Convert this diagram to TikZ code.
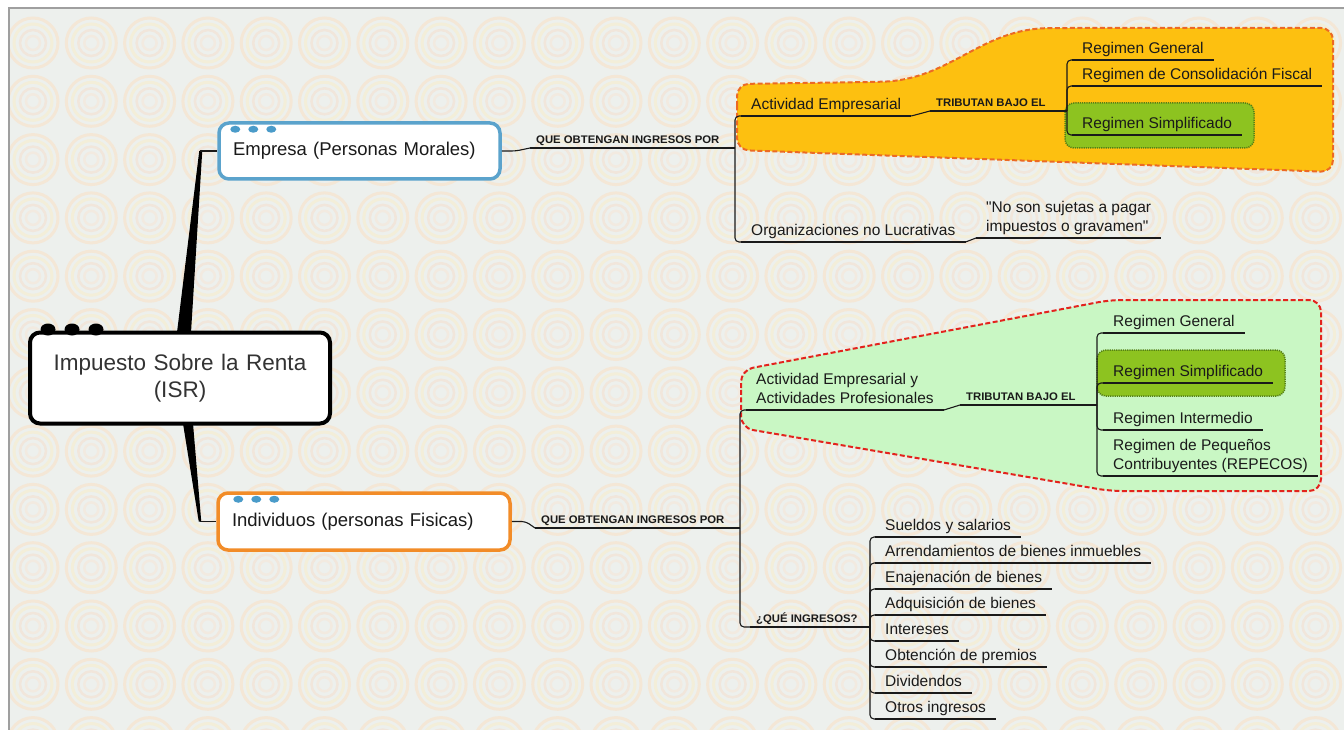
\documentclass[tikz,border=0pt]{standalone}
\usepackage{fontspec}
\setmainfont{Liberation Sans}
\newfontfamily\labfont[FakeStretch=1.03]{Liberation Sans}
\newfontfamily\qfont[Ligatures=TeXOff]{Liberation Sans}
\usetikzlibrary{calc}
\pgfdeclarelayer{back}
\pgfdeclarelayer{bg}
\pgfsetlayers{back,bg,main}
\definecolor{bgc}{HTML}{EDF0ED}
\definecolor{ringA}{HTML}{F4E7D6}
\definecolor{ringB}{HTML}{F3EED9}
\definecolor{ringC}{HTML}{F1E6DB}
\definecolor{ringD}{HTML}{F2EAE0}
\definecolor{empblue}{HTML}{5BA3CC}
\definecolor{dotblue}{HTML}{4A9BC9}
\definecolor{indorange}{HTML}{F28C28}
\definecolor{orfill}{HTML}{FDC010}
\definecolor{orborder}{HTML}{EC6A24}
\definecolor{lgfill}{HTML}{C9F7C4}
\definecolor{redborder}{HTML}{E3231D}
\definecolor{simpl}{HTML}{8DC320}
\definecolor{simplb}{HTML}{557F16}
\definecolor{txt}{HTML}{1A1A1A}
\begin{document}
\begin{tikzpicture}[x=1pt,y=-1pt,
  box/.style={rectangle, rounded corners=10pt, fill=white, line width=3.5pt, inner xsep=14pt, align=left, text=txt, font=\fontsize{18.5}{22}\selectfont},
  topic/.style={anchor=south west, text=txt, font=\fontsize{15.5}{19}\selectfont, inner xsep=10pt, inner ysep=2.5pt, text depth=3.5pt},
  topicone/.style={topic, text height=11pt},
  lab/.style={anchor=south west, text=txt, font=\labfont\bfseries\fontsize{11}{13}\selectfont, inner xsep=6pt, inner ysep=2.5pt, text height=8pt, text depth=1.5pt},
  ul/.style={line width=1.1pt, txt},
  conn/.style={line width=1.1pt, txt, rounded corners=4pt},
  regionline/.style={line width=2pt, dash pattern=on 5pt off 2.5pt, rounded corners=12pt},
  hl/.style={fill=simpl, draw=simplb, line width=1.5pt, dash pattern=on 1.2pt off 1pt, rounded corners=9pt}
]
\useasboundingbox (0,0) rectangle (1344,730);
\begin{pgfonlayer}{back}
\fill[white] (0,0) rectangle (1344,730);
\fill[bgc] (9,8) rectangle (1344,730);
\begin{scope}
\clip (9,8) rectangle (1344,730);
\foreach \i in {0,...,23}{\foreach \j in {0,...,12}{
  \draw[ringA, line width=3pt] (33+58.3*\i, 43+58.3*\j) circle[radius=25];
  \draw[ringB, line width=3pt] (33+58.3*\i, 43+58.3*\j) circle[radius=19];
  \draw[ringC, line width=2.5pt] (33+58.3*\i, 43+58.3*\j) circle[radius=13];
  \draw[ringD, line width=2.5pt] (33+58.3*\i, 43+58.3*\j) circle[radius=7];
}}
\end{scope}
\draw[gray!75, line width=1.5pt] (9,730) -- (9,8) -- (1344,8);
% region shapes
\path[fill=orfill, draw=orborder, regionline]
  (737,118) -- (737,84) -- (870,82) .. controls (950,80) and (980,29) .. (1060,28)
  -- (1333,28) -- (1333,172) -- (737,150) -- cycle;
\path[hl] (1065,103) rectangle (1254,148);
\path[fill=lgfill, draw=redborder, regionline]
  (741,400) -- (741,370) -- (1110,300) -- (1321,300) -- (1321,491) -- (1110,491) -- (741,428) -- cycle;
\path[hl] (1097,350) rectangle (1285,396);
\end{pgfonlayer}

% main boxes
\node[box, draw=black, line width=4pt, align=center, text width=270pt, minimum width=300pt, minimum height=91pt, text=black!80, font=\fontsize{22.5}{27}\selectfont] (root) at (180,378) {Impuesto Sobre la Renta\\(ISR)};
\node[box, draw=empblue, text width=253pt, minimum height=56pt] (emp) at (359.5,151) {Empresa (Personas Morales)};
\node[box, draw=indorange, text width=264pt, minimum height=57pt] (ind) at (364,521.5) {Individuos (personas Fisicas)};
\foreach \k in {0,1,2}{
  \fill[black] ($(root.north west)+(20+24*\k,-1)$) ellipse (7.5 and 6);
  \fill[dotblue] ($(emp.north west)+(18+18*\k,8)$) ellipse (5 and 3.5);
  \fill[dotblue] ($(ind.north west)+(22+18*\k,8)$) ellipse (5 and 3.5);
}

% top branch
\node[lab] (que1) at (530,148) {QUE OBTENGAN INGRESOS POR};
\node[topicone] (ae1) at (741,116) {Actividad Empresarial};
\node[topicone] (org1) at (741,242) {Organizaciones no Lucrativas};
\node[topic, align=left, font=\qfont\fontsize{15.5}{19}\selectfont] (nosuj) at (976,238) {"No son sujetas a pagar\\impuestos o gravamen"};
\node[lab] (trib1) at (930,111) {TRIBUTAN BAJO EL};
\node[topicone] (rg1) at (1072,60) {Regimen General};
\node[topicone] (rcf1) at (1072,86) {Regimen de Consolidación Fiscal};
\node[topicone] (rs1) at (1072,135) {Regimen Simplificado};
\coordinate (s1) at (735,148);
\coordinate (j2) at (1067,111);

% bottom branch
\node[lab] (que2) at (535,528) {QUE OBTENGAN INGRESOS POR};
\node[topic, align=left] (aep) at (746,410) {Actividad Empresarial y\\Actividades Profesionales};
\node[lab] (trib2) at (960,405) {TRIBUTAN BAJO EL};
\node[topicone] (rg2) at (1103,333) {Regimen General};
\node[topicone] (rs2) at (1103,383) {Regimen Simplificado};
\node[topicone] (ri2) at (1103,430) {Regimen Intermedio};
\node[topic, align=left] (rp2) at (1103,476) {Regimen de Pequeños\\Contribuyentes (REPECOS)};
\node[lab] (qi) at (750,627) {¿QUÉ INGRESOS?};
\coordinate (s2) at (740,528);
\coordinate (j3) at (1097,405);
\coordinate (j4) at (870,627);
\foreach \n/\t [count=\k from 0] in {it1/Sueldos y salarios, it2/Arrendamientos de bienes inmuebles, it3/Enajenación de bienes, it4/Adquisición de bienes, it5/Intereses, it6/Obtención de premios, it7/Dividendos, it8/Otros ingresos}{
  \node[topicone] (\n) at (875,537+26*\k) {\t};
}

% underlines
\foreach \n in {que1,ae1,org1,nosuj,trib1,rg1,rcf1,rs1,que2,aep,trib2,rg2,rs2,ri2,rp2,qi,it1,it2,it3,it4,it5,it6,it7,it8}{
  \draw[ul] (\n.south west) -- (\n.south east);
}

% connectors
\begin{pgfonlayer}{bg}
\fill[black] ($(root.north)+(-3,2)$) -- ($(root.north)+(11,2)$) -- ($(emp.west)+(-15,0)$) -- ($(emp.west)+(-18,0)$) -- cycle;
\fill[black] ($(root.south)+(3,-2)$) -- ($(root.south)+(13,-2)$) -- ($(ind.west)+(-15,0)$) -- ($(ind.west)+(-17.5,0)$) -- cycle;
\end{pgfonlayer}
\draw[conn] ($(emp.west)+(-17,0)$) -- (emp.west);
\draw[conn] ($(ind.west)+(-16.5,0)$) -- (ind.west);
\draw[conn] (emp.east) -- ++(14,0) -- (que1.south west);
\draw[conn] (que1.south east) -- (s1);
\draw[conn] (s1) |- (ae1.south west);
\draw[conn] (s1) |- (org1.south west);
\draw[conn] (ae1.south east) -- (trib1.south west);
\draw[conn] (org1.south east) -- (nosuj.south west);
\draw[conn] (trib1.south east) -- (j2);
\foreach \n in {rg1,rcf1,rs1}{ \draw[conn] (j2) |- (\n.south west); }

\draw[conn] (ind.east) -- ++(14,0) -- (que2.south west);
\draw[conn] (que2.south east) -- (s2);
\draw[conn] (s2) |- (aep.south west);
\draw[conn] (s2) |- (qi.south west);
\draw[conn] (aep.south east) -- (trib2.south west);
\draw[conn] (trib2.south east) -- (j3);
\foreach \n in {rg2,rs2,ri2,rp2}{ \draw[conn] (j3) |- (\n.south west); }
\draw[conn] (qi.south east) -- (j4);
\foreach \n in {it1,it2,it3,it4,it5,it6,it7,it8}{ \draw[conn] (j4) |- (\n.south west); }
\end{tikzpicture}
\end{document}
